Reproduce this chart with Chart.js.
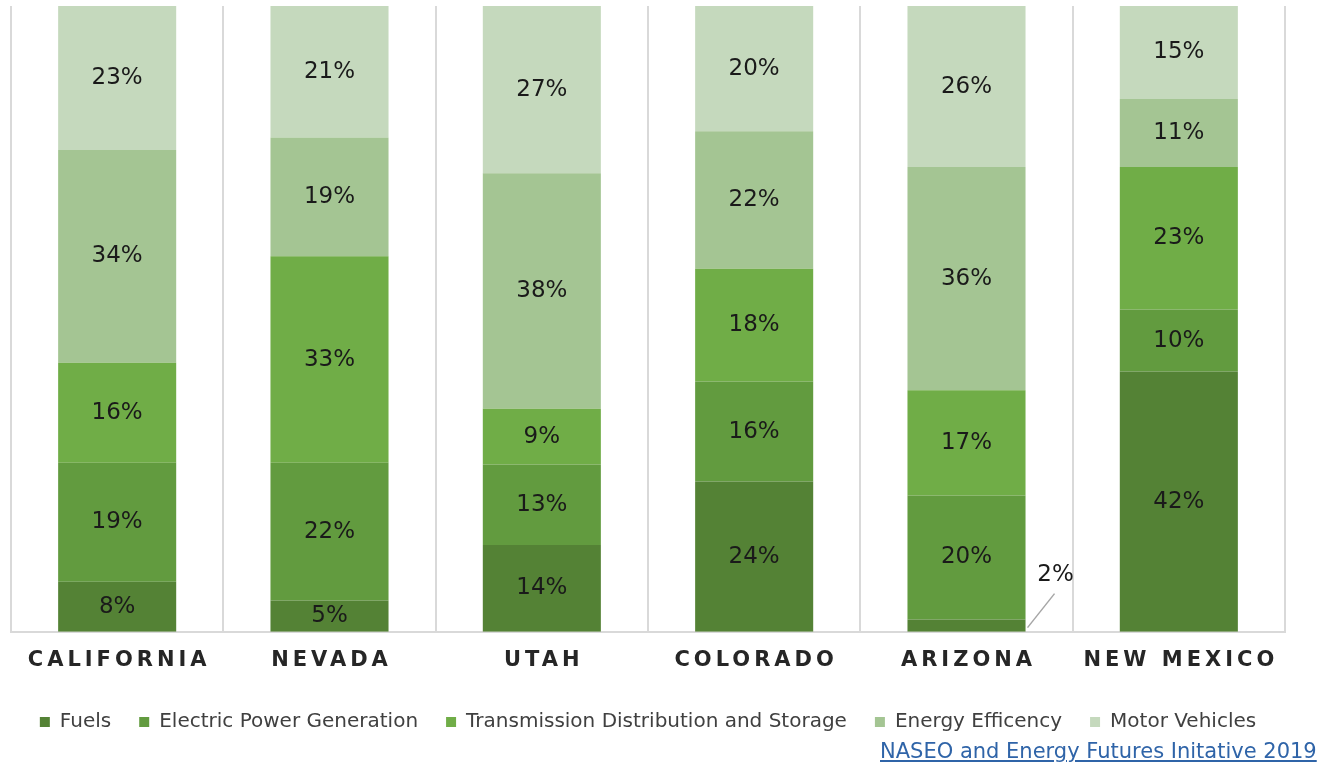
<!DOCTYPE html>
<html>
<head>
<meta charset="utf-8">
<script src="https://cdn.jsdelivr.net/npm/chart.js@4.4.1/dist/chart.umd.min.js"></script>
<style>
  html, body { margin: 0; padding: 0; background: #fff; }
  #wrap { position: relative; width: 1335px; height: 768px; }
  #source {
    position: absolute; left: 880px; top: 739px;
    font-family: "DejaVu Sans", sans-serif; font-size: 21px;
    color: #2f64a8; text-decoration: underline; white-space: nowrap;
  }
</style>
</head>
<body>
<div id="wrap">
  <canvas id="investChart" width="1335" height="768"></canvas>
  <a id="source">NASEO and Energy Futures Initative 2019</a>
</div>
<script>
const states = ["CALIFORNIA", "NEVADA", "UTAH", "COLORADO", "ARIZONA", "NEW MEXICO"];

// share of each state's total, in percent, as labelled on the bars
const fuels = [8, 5, 14, 24, 2, 42];
const electricPower = [19, 22, 13, 16, 20, 10];
const transmission = [16, 33, 9, 18, 17, 23];
const energyEfficiency = [34, 19, 38, 22, 36, 11];
const motorVehicles = [23, 21, 27, 20, 26, 15];

const seriesNames = [
  "Fuels",
  "Electric Power Generation",
  "Transmission Distribution and Storage",
  "Energy Efficency",
  "Motor Vehicles",
];
const seriesData = [fuels, electricPower, transmission, energyEfficiency, motorVehicles];
const seriesColors = ["#548235", "#629b3f", "#70ad47", "#a4c593", "#c5d9bd"];

// 100% stacked: scale each column to its own total
const totals = states.map((s, i) => seriesData.reduce((sum, arr) => sum + arr[i], 0));

const datasets = seriesData.map((arr, k) => ({
  label: seriesNames[k],
  data: arr.map((v, i) => (v / totals[i]) * 100),
  raw: arr,
  backgroundColor: seriesColors[k],
  borderWidth: 0,
  barPercentage: 0.556,
  categoryPercentage: 1,
}));

const FONT = '"DejaVu Sans", sans-serif';

const labelsPlugin = {
  id: "segmentLabels",
  afterDatasetsDraw(chart) {
    const ctx = chart.ctx;
    ctx.save();
    ctx.font = "23px " + FONT;
    ctx.fillStyle = "#1a1a1a";
    ctx.textAlign = "center";
    ctx.textBaseline = "middle";
    chart.data.datasets.forEach((ds, k) => {
      const meta = chart.getDatasetMeta(k);
      meta.data.forEach((bar, i) => {
        const txt = ds.raw[i] + "%";
        if (ds.raw[i] < 4) {
          // small slice: label outside with a leader line
          const x0 = bar.x + bar.width / 2 + 2;
          const y0 = bar.y + (bar.base - bar.y) / 2 + 2;
          ctx.strokeStyle = "#a6a6a6";
          ctx.lineWidth = 1.5;
          ctx.beginPath();
          ctx.moveTo(x0, y0);
          ctx.lineTo(x0 + 27, y0 - 34);
          ctx.stroke();
          ctx.fillText(txt, x0 + 28, y0 - 53);
        } else {
          ctx.fillText(txt, bar.x, (bar.y + bar.base) / 2);
        }
      });
    });
    ctx.restore();
  },
  afterDraw(chart) {
    // state names with wide letter spacing
    const ctx = chart.ctx;
    const xScale = chart.scales.x;
    ctx.save();
    ctx.font = "bold 21px " + FONT;
    ctx.fillStyle = "#262626";
    ctx.textAlign = "center";
    ctx.textBaseline = "middle";
    ctx.letterSpacing = "4px";
    states.forEach((s, i) => {
      ctx.fillText(s, xScale.getPixelForValue(i) + 2, 661);
    });
    ctx.restore();
  },
};

new Chart(document.getElementById("investChart").getContext("2d"), {
  type: "bar",
  data: {
    labels: states,
    datasets: datasets,
  },
  options: {
    responsive: false,
    animation: false,
    devicePixelRatio: 1,
    layout: {
      padding: { top: 6, left: 11, right: 50, bottom: 26 },
    },
    scales: {
      x: {
        stacked: true,
        grid: {
          color: "#d9d9d9",
          lineWidth: 2,
          drawTicks: false,
          offset: true,
        },
        border: { color: "#d9d9d9", width: 2 },
        ticks: {
          color: "rgba(0,0,0,0)",
          font: { family: FONT, size: 21 },
          padding: 13.5,
        },
      },
      y: {
        stacked: true,
        display: false,
        min: 0,
        max: 100,
      },
    },
    plugins: {
      legend: {
        display: true,
        position: "bottom",
        labels: {
          boxWidth: 10,
          boxHeight: 10,
          padding: 28,
          color: "#404040",
          font: { family: FONT, size: 20 },
        },
      },
      tooltip: { enabled: false },
    },
  },
  plugins: [labelsPlugin],
});
</script>
</body>
</html>
